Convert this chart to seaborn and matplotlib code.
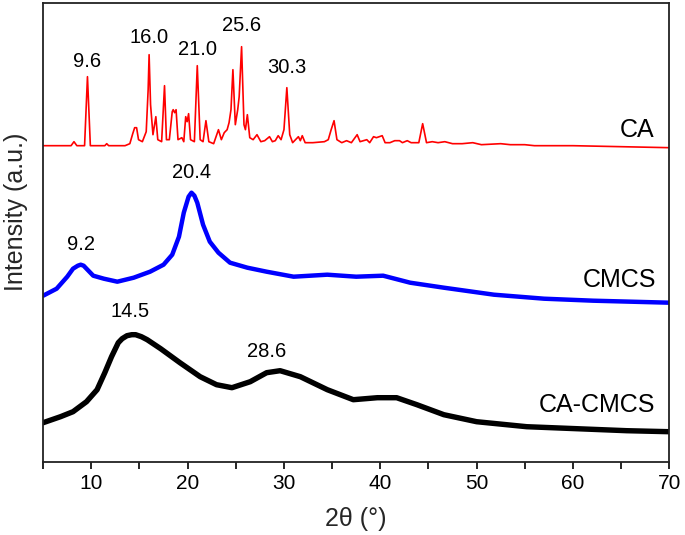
import matplotlib
matplotlib.use("Agg")
import matplotlib.pyplot as plt
from matplotlib.ticker import MultipleLocator
import seaborn as sns
import pandas as pd

# ---- data (2-theta in degrees, intensity in arbitrary units, curves already offset) ----
ca_2theta = [5.0, 7.9, 8.2, 8.5, 9.3, 9.6, 9.9, 11.4, 11.6, 11.8, 13.5, 14.0, 14.3, 14.5, 14.7, 14.9,
             15.3, 15.7, 15.9, 16.0, 16.15, 16.4, 16.7, 16.9, 17.3, 17.6, 17.8, 18.1, 18.4, 18.5,
             18.65, 18.8, 19.0, 19.4, 19.6, 19.8, 19.95, 20.1, 20.3, 20.7, 21.0, 21.3, 21.6, 21.9,
             22.2, 22.7, 23.2, 23.5, 23.8, 24.1, 24.3, 24.5, 24.7, 24.95, 25.2, 25.35, 25.6, 25.85,
             26.0, 26.2, 26.45, 26.8, 27.2, 27.6, 28.0, 28.5, 28.8, 29.1, 29.4, 29.7, 30.0, 30.3,
             30.6, 30.9, 31.5, 31.7, 31.9, 32.2, 33.0, 34.2, 34.6, 34.9, 35.2, 35.5, 36.0, 36.5,
             37.0, 37.6, 37.9, 38.6, 38.9, 39.3, 39.6, 39.9, 40.2, 40.5, 41.0, 41.5, 42.0, 42.3,
             42.8, 43.2, 44.0, 44.4, 44.8, 45.4, 46.0, 46.7, 47.5, 48.5, 49.6, 50.5, 52.5, 53.5,
             55.0, 56.0, 60.0, 65.0, 70.0]
ca_pix = [146, 146, 142, 146, 146, 77, 146, 146, 144, 146, 146, 144, 134, 128, 128, 140,
          142, 132, 90, 55, 105, 135, 117, 140, 142, 86, 140, 140, 112, 110,
          113, 110, 140, 138, 142, 117, 122, 114, 140, 142, 66, 140, 142, 121,
          142, 144, 130, 140, 133, 130, 123, 110, 70, 125, 110, 97, 47, 125,
          130, 115, 138, 140, 135, 142, 141, 137, 142, 141, 136, 140, 130, 88,
          135, 143, 137, 141, 136, 143, 143, 142, 140, 130, 121, 140, 143, 141,
          143, 135, 142, 140, 143, 137, 138, 137, 136, 143, 143, 141, 141, 143,
          141, 143, 143, 124, 143, 142, 143, 142, 144, 144, 143, 145, 144, 145,
          145, 146, 146, 147, 148]
ca_int = [462 - p for p in ca_pix]

cmcs_2theta = [5.0, 6.4, 7.5, 8.1, 8.6, 8.9, 9.2, 9.5, 10.2, 11.3, 12.7, 14.4, 16.1, 17.5,
               18.4, 19.1, 19.6, 20.1, 20.4, 20.7, 21.0, 21.6, 22.3, 23.2, 24.4, 26.2, 28.2,
               31.0, 34.5, 37.5, 40.3, 43.1, 46.6, 51.8, 57.0, 62.1, 70.0]
cmcs_int = [166, 173, 185, 193, 196, 197, 196, 193, 186, 183, 180, 184, 190, 197,
            207, 225, 249, 265, 269, 266, 259, 237, 220, 209, 199, 194, 190,
            185, 187, 185, 186, 179, 174, 167, 163, 161, 159]

cacmcs_2theta = [5.0, 6.8, 8.1, 9.5, 10.6, 11.4, 12.1, 12.8, 13.2, 13.7, 14.2, 14.6, 15.2,
                 15.8, 17.2, 19.2, 21.3, 23.0, 24.6, 26.5, 28.2, 29.6, 31.7, 34.5, 37.2,
                 39.7, 41.7, 43.8, 46.6, 50.0, 55.2, 60.4, 65.6, 70.0]
cacmcs_int = [39, 45, 50, 60, 72, 89, 105, 119, 123, 126, 127, 127, 125,
              122, 113, 99, 85, 77, 74, 80, 89, 91, 85, 72, 62,
              64, 64, 57, 47, 40, 35, 33, 31, 30]

peak_labels = ["9.6", "16.0", "21.0", "25.6", "30.3", "9.2", "20.4", "14.5", "28.6"]
peak_label_x = [9.6, 16.0, 21.0, 25.6, 30.3, 8.9, 20.4, 14.0, 28.2]
peak_label_y = [400, 424, 412, 436, 394, 217, 289, 150, 110]

series_names = ["CA", "CMCS", "CA-CMCS"]
series_label_x = [68.5, 68.6, 68.5]
series_label_y = [332, 182, 57]
colors = ["#ff0000", "#0000ff", "#000000"]
widths = [1.2, 3.2, 3.9]

sns.set_theme(style="ticks")
plt.rcParams["font.family"] = ["Liberation Sans", "DejaVu Sans"]

fig = plt.figure(figsize=(6.85, 5.35), dpi=100)
ax = fig.add_axes([0.063, 0.137, 0.914, 0.858])

frames = [
    pd.DataFrame({"x": ca_2theta, "y": ca_int}),
    pd.DataFrame({"x": cmcs_2theta, "y": cmcs_int}),
    pd.DataFrame({"x": cacmcs_2theta, "y": cacmcs_int}),
]
for df, c, w in zip(frames, colors, widths):
    sns.lineplot(data=df, x="x", y="y", ax=ax, color=c, linewidth=w,
                 estimator=None, sort=False)
    ax.lines[-1].set_solid_joinstyle("round")

for t, x, y in zip(peak_labels, peak_label_x, peak_label_y):
    ax.text(x, y, t, ha="center", va="center", fontsize=14.5, color="black")
for t, x, y in zip(series_names, series_label_x, series_label_y):
    ax.text(x, y, t, ha="right", va="center", fontsize=18, color="black")

ax.set_xlim(5, 70)
ax.set_ylim(0, 459)
ax.xaxis.set_major_locator(MultipleLocator(10))
ax.xaxis.set_minor_locator(MultipleLocator(5))
ax.set_yticks([])
ax.tick_params(axis="x", which="both", direction="out", length=5, width=1.2,
               labelsize=15, colors="black", pad=4)
for s in ax.spines.values():
    s.set_visible(True)
    s.set_linewidth(1.3)
    s.set_color("#222222")
ax.set_xlabel("2\u03b8 (\u00b0)", fontsize=18, labelpad=10)
ax.set_ylabel("Intensity (a.u.)", fontsize=18)
ax.yaxis.set_label_coords(-0.024, 0.545)

fig.savefig("out.png", dpi=100)
